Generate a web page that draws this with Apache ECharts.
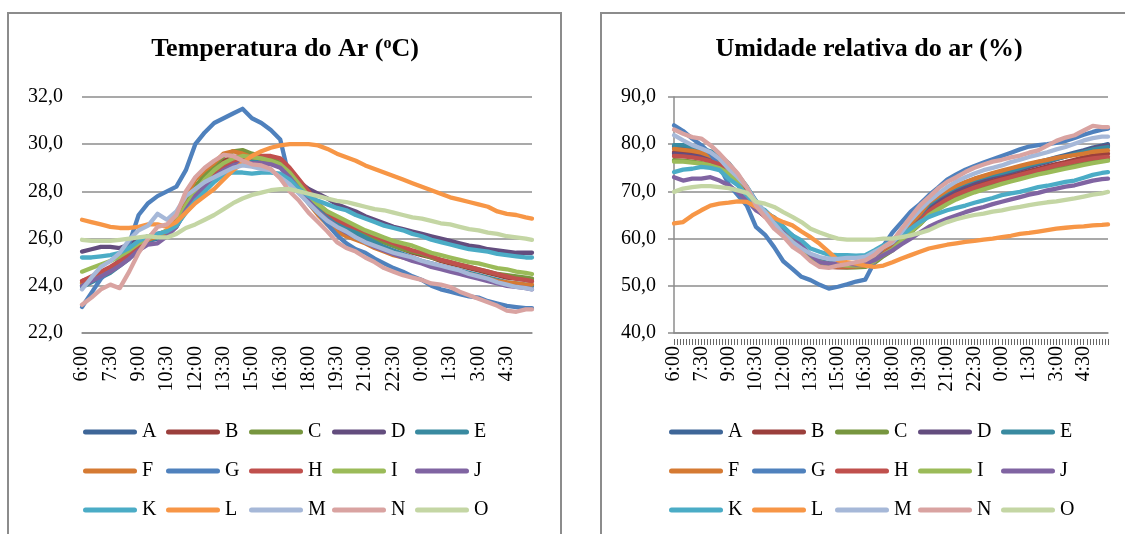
<!DOCTYPE html>
<html>
<head>
<meta charset="utf-8">
<script src="https://cdn.jsdelivr.net/npm/echarts@6/dist/echarts.min.js"></script>
<style>
html,body{margin:0;padding:0;background:#fff;}
#chart{width:1125px;height:534px;background:#fff;}
</style>
</head>
<body>
<div id="chart"></div>
<script>
// ---------- DATA ----------
const seriesNames = ['A','B','C','D','E','F','G','H','I','J','K','L','M','N','O'];
const seriesColors = ['#3E6698','#9B3F3C','#77963F','#634D7E','#398AA0','#D57A33',
  '#4F81BD','#C0504D','#9BBB59','#8064A2','#4BACC6','#F79646','#A6B8D8','#D9A3A1','#C4D6A4'];
const sampleTimes = ['6:00','6:30','7:00','7:30','8:00','8:30','9:00','9:30','10:00','10:30','11:00','11:30',
  '12:00','12:30','13:00','13:30','14:00','14:30','15:00','15:30','16:00','16:30','17:00','17:30',
  '18:00','18:30','19:00','19:30','20:00','20:30','21:00','21:30','22:00','22:30','23:00','23:30',
  '0:00','0:30','1:00','1:30','2:00','2:30','3:00','3:30','4:00','4:30','5:00','5:30','5:50'];

// Temperatura do Ar (ºC)
const tempA = [24.0,24.2,24.4,24.6,24.9,25.2,25.6,25.9,26.0,26.2,26.5,27.2,27.8,28.3,28.7,29.0,29.2,29.3,29.3,29.25,29.2,29.05,28.6,28.1,27.6,27.2,26.85,26.55,26.3,26.1,25.9,25.7,25.55,25.4,25.25,25.15,25.0,24.9,24.8,24.7,24.6,24.5,24.4,24.3,24.2,24.1,24.05,24.0,24.0];
const tempB = [24.2,24.35,24.5,24.7,24.95,25.25,25.65,25.95,26.1,26.3,26.6,27.4,28.1,28.6,29.0,29.3,29.45,29.5,29.45,29.4,29.35,29.2,28.8,28.3,27.8,27.4,27.05,26.8,26.6,26.4,26.2,26.0,25.85,25.7,25.55,25.4,25.3,25.2,25.05,24.95,24.85,24.75,24.65,24.55,24.45,24.35,24.3,24.25,24.2];
const tempC = [24.1,24.3,24.5,24.75,25.0,25.3,25.7,26.0,26.1,26.3,26.7,27.5,28.2,28.7,29.1,29.5,29.7,29.75,29.6,29.5,29.4,29.2,28.8,28.3,27.8,27.4,27.1,26.8,26.55,26.35,26.15,26.0,25.85,25.7,25.55,25.45,25.35,25.2,25.1,25.0,24.9,24.8,24.7,24.6,24.5,24.45,24.4,24.35,24.3];
const tempD = [25.45,25.55,25.65,25.65,25.6,25.75,25.95,26.1,26.2,26.3,26.6,27.3,27.9,28.3,28.7,29.0,29.2,29.3,29.3,29.3,29.25,29.1,28.8,28.4,28.1,27.9,27.7,27.45,27.3,27.15,26.95,26.8,26.65,26.5,26.4,26.3,26.2,26.1,26.0,25.9,25.8,25.7,25.65,25.55,25.5,25.45,25.4,25.4,25.4];
const tempE = [23.95,24.15,24.35,24.55,24.85,25.15,25.55,25.9,26.05,26.25,26.55,27.3,27.9,28.4,28.8,29.1,29.3,29.4,29.35,29.3,29.25,29.1,28.7,28.2,27.7,27.3,27.0,26.7,26.45,26.25,26.05,25.85,25.65,25.5,25.35,25.2,25.05,24.95,24.85,24.75,24.65,24.55,24.45,24.35,24.25,24.15,24.1,24.05,24.0];
const tempF = [24.1,24.3,24.45,24.65,24.95,25.3,25.7,25.95,26.1,26.3,26.8,27.8,28.5,28.9,29.2,29.6,29.7,29.6,29.45,29.4,29.3,29.1,28.6,28.0,27.5,27.0,26.6,26.3,26.1,25.95,25.8,25.6,25.45,25.3,25.2,25.1,25.0,24.9,24.8,24.7,24.6,24.5,24.4,24.3,24.2,24.15,24.1,24.05,24.05];
const tempG = [23.1,23.7,24.3,24.7,25.1,25.8,27.0,27.5,27.8,28.0,28.2,28.9,30.0,30.5,30.9,31.1,31.3,31.5,31.1,30.9,30.6,30.2,28.5,28.0,27.5,27.1,26.6,26.15,25.8,25.55,25.4,25.15,24.95,24.75,24.6,24.4,24.25,24.0,23.85,23.75,23.65,23.55,23.5,23.35,23.25,23.15,23.1,23.05,23.05];
const tempH = [24.2,24.4,24.6,24.8,25.05,25.35,25.7,26.0,26.15,26.35,26.6,27.3,27.9,28.4,28.8,29.1,29.3,29.4,29.45,29.5,29.5,29.4,29.0,28.5,28.0,27.5,27.1,26.8,26.6,26.45,26.3,26.1,25.95,25.8,25.65,25.5,25.4,25.25,25.1,25.0,24.9,24.8,24.7,24.6,24.5,24.4,24.3,24.25,24.2];
const tempI = [24.6,24.75,24.9,25.05,25.25,25.5,25.8,26.0,26.15,26.35,26.7,27.4,28.0,28.5,28.9,29.2,29.4,29.5,29.45,29.4,29.3,29.15,28.8,28.3,27.8,27.45,27.15,26.95,26.75,26.55,26.35,26.2,26.05,25.9,25.8,25.7,25.55,25.4,25.3,25.2,25.1,25.0,24.95,24.85,24.75,24.7,24.6,24.55,24.5];
const tempJ = [24.0,24.2,24.4,24.6,24.85,25.15,25.5,25.75,25.8,26.1,26.5,27.2,27.8,28.2,28.6,28.9,29.1,29.2,29.2,29.2,29.15,29.0,28.6,28.1,27.6,27.15,26.8,26.5,26.25,26.05,25.85,25.65,25.5,25.35,25.2,25.05,24.95,24.8,24.7,24.6,24.5,24.4,24.3,24.2,24.1,24.0,23.95,23.9,23.85];
const tempK = [25.2,25.2,25.25,25.3,25.4,25.6,25.9,26.1,26.2,26.3,26.55,27.1,27.6,28.0,28.4,28.7,28.8,28.8,28.75,28.8,28.8,28.75,28.5,28.1,27.8,27.6,27.45,27.3,27.2,27.0,26.85,26.7,26.55,26.45,26.35,26.2,26.1,25.95,25.85,25.75,25.65,25.55,25.5,25.45,25.35,25.3,25.25,25.2,25.2];
const tempL = [26.8,26.7,26.6,26.5,26.45,26.45,26.5,26.6,26.6,26.5,26.7,27.1,27.5,27.8,28.1,28.5,28.9,29.2,29.5,29.7,29.85,29.95,30.0,30.0,30.0,29.95,29.8,29.6,29.45,29.3,29.1,28.95,28.8,28.65,28.5,28.35,28.2,28.05,27.9,27.75,27.65,27.55,27.45,27.35,27.15,27.05,27.0,26.9,26.85];
const tempM = [23.85,24.35,24.8,25.05,25.4,25.95,26.35,26.55,27.05,26.8,27.15,27.8,28.1,28.4,28.6,28.8,29.0,29.1,29.05,28.95,28.9,28.6,28.3,27.9,27.5,27.1,26.75,26.5,26.3,26.05,25.85,25.7,25.55,25.4,25.3,25.2,25.05,24.95,24.85,24.75,24.65,24.5,24.4,24.3,24.15,24.05,23.95,23.9,23.85];
const tempN = [23.2,23.5,23.85,24.05,23.9,24.6,25.4,26.0,26.5,26.6,27.0,28.0,28.6,29.0,29.3,29.55,29.5,29.3,29.15,29.1,28.95,28.55,28.0,27.6,27.1,26.7,26.3,25.85,25.6,25.45,25.2,25.0,24.75,24.6,24.45,24.35,24.25,24.1,24.05,23.95,23.75,23.6,23.45,23.3,23.15,22.95,22.9,23.0,23.0];
const tempO = [25.95,25.9,25.9,25.9,25.95,26.0,26.05,26.1,26.05,26.05,26.2,26.45,26.6,26.8,27.0,27.25,27.5,27.7,27.85,27.95,28.05,28.1,28.1,28.0,27.9,27.8,27.7,27.6,27.55,27.45,27.35,27.25,27.2,27.1,27.0,26.9,26.85,26.75,26.65,26.6,26.5,26.4,26.35,26.25,26.2,26.1,26.05,26.0,25.95];

// Umidade relativa do ar (%)
const humA = [79.5,79.3,78.8,78.3,77.8,77.0,75.5,73.0,70.0,67.0,65.3,64.0,62.0,60.2,58.0,56.2,55.0,54.5,54.3,54.2,54.3,54.5,55.5,57.2,58.6,60.8,63.0,65.0,67.5,68.9,70.1,71.1,71.9,72.6,73.2,73.7,74.1,74.6,75.1,75.7,76.2,76.7,77.2,77.7,78.2,78.7,79.3,79.7,80.0];
const humB = [78.3,78.2,78.0,77.6,77.0,76.2,75.0,72.6,69.6,66.4,64.8,63.9,62.0,59.6,57.5,55.6,54.5,54.0,53.9,53.9,54.0,54.2,55.0,56.6,57.8,59.8,62.0,63.8,66.0,67.4,68.6,69.6,70.4,71.1,71.7,72.3,72.8,73.3,73.8,74.3,74.8,75.3,75.8,76.2,76.7,77.2,77.6,77.9,78.0];
const humC = [76.6,76.5,76.3,76.0,75.6,75.0,74.0,72.0,69.2,66.3,64.8,63.8,61.8,59.5,57.3,55.6,54.6,54.2,54.0,53.9,53.9,54.0,54.8,56.3,57.5,59.4,61.3,63.0,65.0,66.3,67.5,68.5,69.3,70.0,70.7,71.3,71.9,72.4,72.9,73.4,73.9,74.3,74.7,75.1,75.5,75.9,76.3,76.6,76.8];
const humD = [78.0,77.8,77.6,77.3,76.8,76.0,74.8,72.5,69.5,66.5,65.0,63.8,61.8,59.8,57.8,56.0,55.0,54.5,54.5,54.5,54.6,54.8,55.6,57.0,58.3,60.3,62.4,64.2,66.6,68.0,69.2,70.3,71.1,71.9,72.5,73.1,73.6,74.1,74.6,75.2,75.7,76.2,76.8,77.4,77.9,78.5,79.1,79.5,79.7];
const humE = [79.8,79.8,79.5,79.0,78.5,77.5,76.0,73.5,71.0,68.0,65.5,64.5,62.5,60.5,58.5,56.5,55.3,54.8,54.6,54.5,54.6,54.8,55.8,57.5,58.8,61.0,63.2,65.0,67.3,68.7,69.9,70.9,71.7,72.4,73.0,73.5,73.9,74.4,74.9,75.5,76.0,76.4,76.9,77.4,77.9,78.4,78.9,79.2,79.4];
const humF = [79.0,78.8,78.6,78.2,77.5,76.5,75.2,72.8,69.8,66.8,65.0,63.8,61.7,59.8,57.6,55.8,54.6,54.2,54.0,54.0,54.1,54.3,55.4,57.0,58.6,60.9,63.2,65.2,67.7,69.0,70.2,71.2,72.0,72.7,73.3,73.9,74.4,74.9,75.4,75.9,76.3,76.7,77.1,77.4,77.7,78.0,78.4,78.6,78.7];
const humG = [84.0,82.8,81.2,79.8,78.0,75.3,71.5,69.2,67.0,62.5,60.8,58.2,55.2,53.6,51.9,51.2,50.2,49.4,49.8,50.3,50.9,51.3,55.0,58.5,61.3,63.5,65.7,67.3,69.2,70.8,72.5,73.6,74.6,75.4,76.1,76.8,77.5,78.2,78.9,79.5,79.8,80.0,80.3,80.7,81.3,82.0,82.6,83.1,83.3];
const humH = [77.5,77.4,77.2,76.9,76.4,75.7,74.6,72.3,69.3,66.3,64.6,63.6,61.6,59.3,57.3,55.5,54.6,54.2,54.1,54.1,54.2,54.4,55.2,56.8,58.0,60.0,62.0,63.7,65.8,67.1,68.3,69.3,70.1,70.8,71.4,72.0,72.5,73.0,73.5,74.0,74.5,75.0,75.5,75.9,76.3,76.7,77.0,77.2,77.3];
const humI = [76.3,76.3,76.1,75.9,75.5,74.9,73.8,71.8,69.0,66.5,65.0,64.0,62.0,59.8,57.6,55.9,55.0,54.6,54.4,54.3,54.3,54.4,55.2,56.6,57.8,59.6,61.5,63.1,65.0,66.2,67.3,68.3,69.1,69.8,70.4,71.0,71.6,72.1,72.6,73.1,73.6,74.0,74.4,74.8,75.2,75.6,76.0,76.3,76.5];
const humJ = [73.0,72.3,72.7,72.7,73.0,72.3,71.3,69.9,68.1,66.0,64.9,63.9,62.1,60.7,58.6,56.5,55.0,54.7,54.7,54.7,54.5,54.7,55.4,56.5,57.5,58.8,60.0,61.3,62.5,63.4,64.2,64.9,65.6,66.2,66.7,67.3,67.8,68.3,68.8,69.3,69.7,70.2,70.6,71.0,71.3,71.8,72.3,72.6,72.7];
const humK = [74.1,74.6,74.8,75.2,75.0,74.5,72.7,71.3,69.2,67.0,66.0,64.2,62.5,60.7,59.6,57.9,57.2,56.6,56.5,56.5,56.4,56.5,57.5,58.6,59.3,60.7,62.1,63.5,64.6,65.3,66.0,66.5,67.0,67.6,68.1,68.6,69.2,69.6,69.9,70.4,70.9,71.2,71.6,72.0,72.3,72.9,73.5,73.9,74.1];
const humL = [63.2,63.5,64.9,66.0,67.0,67.4,67.6,67.9,67.8,66.7,65.6,64.4,63.5,62.8,61.5,60.3,58.9,57.2,55.4,55.0,54.7,54.3,54.0,54.3,55.0,55.8,56.5,57.2,57.9,58.3,58.7,59.0,59.3,59.5,59.8,60.0,60.3,60.6,61.0,61.2,61.5,61.8,62.1,62.3,62.5,62.6,62.8,62.9,63.0];
const humM = [81.9,80.8,79.8,79.1,78.3,76.9,74.8,73.0,70.9,67.8,65.6,63.2,61.0,59.3,57.9,56.8,56.1,55.7,55.7,55.9,55.9,56.1,57.2,58.2,59.2,61.4,63.9,66.0,67.9,69.5,70.9,72.1,73.0,73.8,74.5,75.0,75.5,76.2,76.7,77.3,77.8,78.3,78.9,79.4,80.1,80.8,81.3,81.6,81.6];
const humN = [83.1,82.2,81.5,81.2,79.8,78.0,75.9,73.8,70.9,67.0,64.6,62.1,60.5,58.3,57.0,55.2,54.0,53.8,54.3,54.6,55.0,55.4,56.5,58.2,59.5,62.1,64.6,67.0,68.8,70.6,72.0,73.0,74.1,75.0,75.7,76.3,76.7,77.2,77.6,78.2,78.7,79.7,80.7,81.4,81.9,82.9,83.9,83.6,83.6];
const humO = [69.9,70.6,70.9,71.1,71.1,70.9,70.7,70.2,69.7,67.8,67.4,66.7,65.6,64.6,63.5,62.1,61.3,60.6,60.0,59.8,59.8,59.8,59.8,60.0,60.0,60.3,60.7,61.2,61.8,62.7,63.5,64.1,64.6,65.0,65.3,65.7,66.0,66.4,66.7,67.1,67.4,67.7,67.9,68.2,68.5,68.9,69.3,69.6,69.9];

// Axis settings (values)
const tempAxis = {min: 22, max: 32, interval: 2};
const humAxis = {min: 40, max: 90, interval: 10};
const xAxisRange = {min: 0, max: 1430, interval: 90};

// ---------- BUILD ----------
const tempData = [tempA,tempB,tempC,tempD,tempE,tempF,tempG,tempH,tempI,tempJ,tempK,tempL,tempM,tempN,tempO];
const humData = [humA,humB,humC,humD,humE,humF,humG,humH,humI,humJ,humK,humL,humM,humN,humO];

const FONT = "'Liberation Serif', 'Times New Roman', serif";
const GRAY = '#8c8c8c';
const TICK = '#666666';

function toMin(s) {
  const p = s.split(':');
  const t = parseInt(p[0], 10) * 60 + parseInt(p[1], 10);
  return (t - 360 + 1440) % 1440;
}
const minutes = sampleTimes.map(toMin);
function fmtTime(v) {
  const t = (360 + Math.round(v)) % 1440;
  const h = Math.floor(t / 60), m = t % 60;
  return h + ':' + (m < 10 ? '0' + m : m);
}
function fmtNum(v) { return v.toFixed(1).replace('.', ','); }

const grids = [
  {left: 82, top: 97, width: 450, height: 236},
  {left: 674, top: 97, width: 434, height: 236},
  // thin strip under the humidity plot that only carries its tick marks
  {left: 674, top: 333, width: 434, height: 6}
];

function makeX(idx) {
  return {
    type: 'value', gridIndex: idx, min: xAxisRange.min, max: xAxisRange.max, interval: xAxisRange.interval,
    axisLine: {show: true, lineStyle: {color: GRAY, width: 1.5}},
    axisTick: {show: false},
    splitLine: {show: false},
    axisLabel: {rotate: 90, margin: 13, showMaxLabel: false, color: '#000', fontFamily: FONT, fontSize: 20,
      formatter: fmtTime}
  };
}
const tickXAxis = {
  type: 'value', gridIndex: 2, position: 'top', min: xAxisRange.min, max: xAxisRange.max, interval: xAxisRange.interval,
  axisLine: {show: false},
  axisTick: {show: true, inside: true, length: 6, lineStyle: {color: TICK, width: 1}},
  minorTick: {show: true, splitNumber: 9, length: 6, lineStyle: {color: TICK, width: 1}},
  axisLabel: {show: false}, splitLine: {show: false}, minorSplitLine: {show: false}
};
function makeY(idx, ax, line) {
  return {
    type: 'value', gridIndex: idx, min: ax.min, max: ax.max, interval: ax.interval,
    axisLine: {show: line, lineStyle: {color: GRAY, width: 1.5}},
    axisTick: {show: line, length: 6, lineStyle: {color: GRAY, width: 1.5}},
    splitLine: {show: true, lineStyle: {color: GRAY, width: 1.5}},
    axisLabel: {margin: line ? 18 : 19, color: '#000', fontFamily: FONT, fontSize: 20, formatter: fmtNum}
  };
}
const tickYAxis = {type: 'value', gridIndex: 2, min: 0, max: 1, show: false};

const series = [];
[tempData, humData].forEach(function (set, g) {
  set.forEach(function (vals, k) {
    series.push({
      name: seriesNames[k], type: 'line', xAxisIndex: g, yAxisIndex: g,
      data: vals.map(function (v, i) { return [minutes[i], v]; }),
      symbol: 'none', smooth: false, color: seriesColors[k],
      lineStyle: {width: 4.3, color: seriesColors[k], cap: 'round', join: 'round'},
      emphasis: {disabled: true}, silent: true
    });
  });
});

const ICON = 'path://M2.5,0H51.5A2.5,2.5,0,0,1,51.5,5H2.5A2.5,2.5,0,0,1,2.5,0Z';
const legendStartX = [83, 669];
const legendRowY = [432, 471, 510];
const legendStep = 83;
const legends = [];
[0, 1].forEach(function (c) {
  seriesNames.forEach(function (n, k) {
    const row = Math.floor(k / 5), col = k % 5;
    legends.push({
      data: [n], left: legendStartX[c] + col * legendStep, top: legendRowY[row] - 10,
      padding: 0, itemGap: 0, itemWidth: 54, itemHeight: 5, icon: ICON, selectedMode: false,
      textStyle: {fontFamily: FONT, fontSize: 20, color: '#000', lineHeight: 20}
    });
  });
});

const titleText = {fontFamily: FONT, fontSize: 26, fontWeight: 'bold', color: '#000',
  rich: {sup: {fontFamily: FONT, fontSize: 16, fontWeight: 'bold', color: '#000', verticalAlign: 'top'}}};

const chart = echarts.init(document.getElementById('chart'), null, {renderer: 'canvas'});
chart.setOption({
  animation: false,
  title: [
    {text: 'Temperatura do Ar ({sup|o}C)', left: 285, top: 36, textAlign: 'center', padding: 0, textStyle: titleText},
    {text: 'Umidade relativa do ar (%)', left: 869, top: 36, textAlign: 'center', padding: 0, textStyle: titleText}
  ],
  grid: grids,
  xAxis: [makeX(0), makeX(1), tickXAxis],
  yAxis: [makeY(0, tempAxis, false), makeY(1, humAxis, true), tickYAxis],
  legend: legends,
  graphic: [
    {type: 'rect', shape: {x: 8, y: 13, width: 553, height: 540}, style: {fill: null, stroke: GRAY, lineWidth: 2}, silent: true, z: -1},
    {type: 'rect', shape: {x: 601, y: 13, width: 560, height: 540}, style: {fill: null, stroke: GRAY, lineWidth: 2}, silent: true, z: -1}
  ],
  series: series
});
</script>
</body>
</html>
